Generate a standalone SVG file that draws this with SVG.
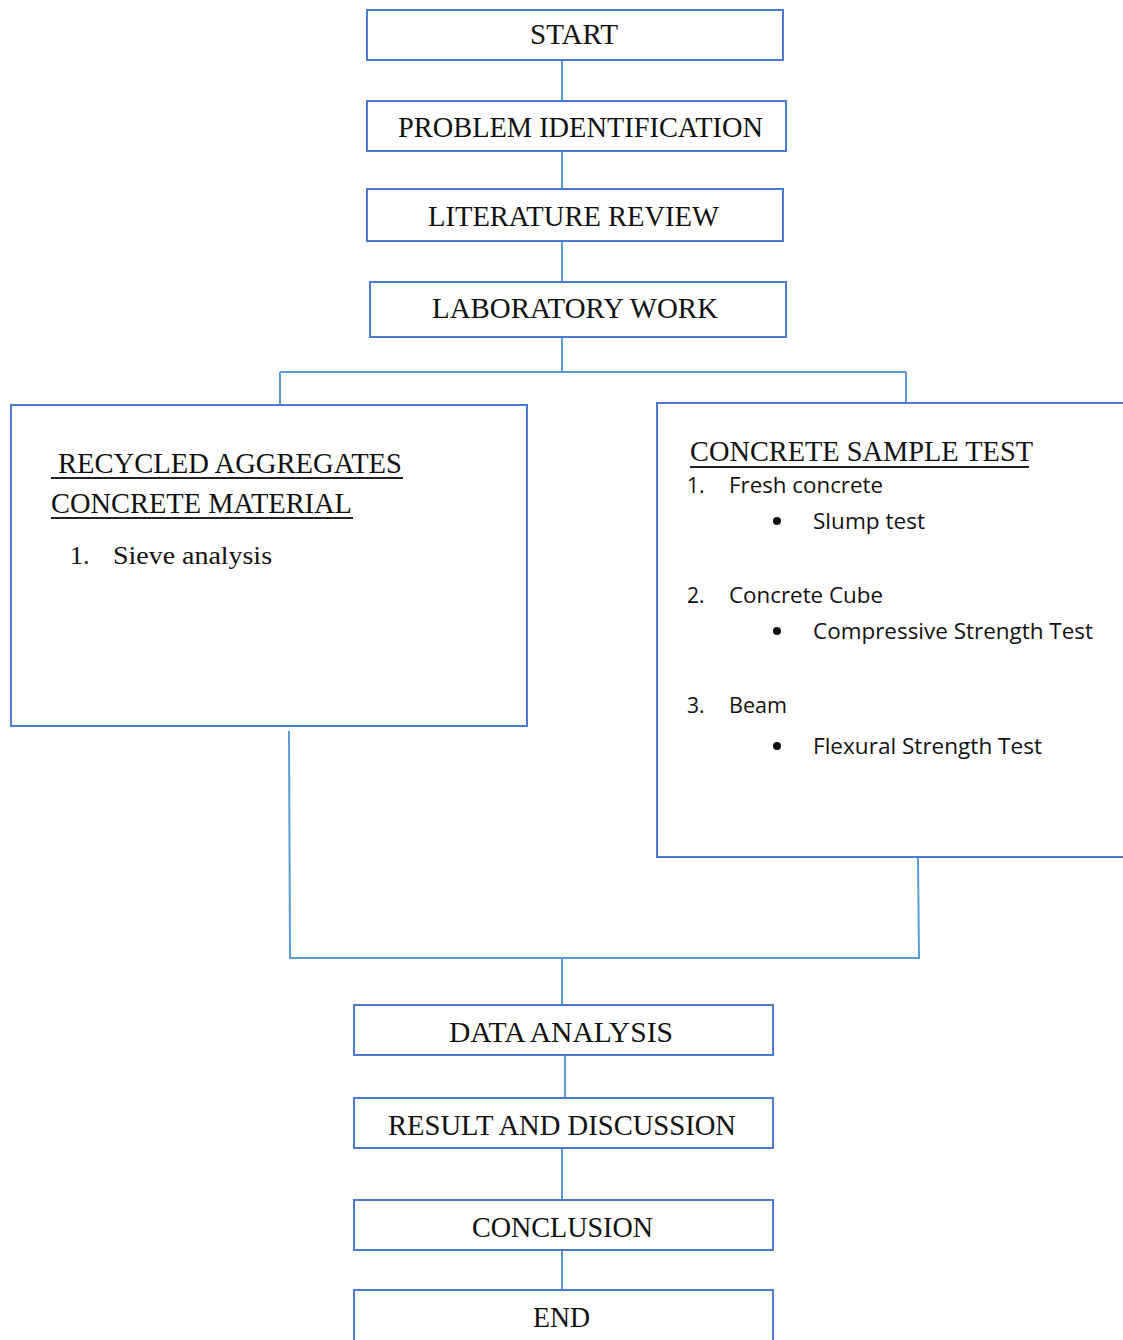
<svg xmlns="http://www.w3.org/2000/svg" width="1123" height="1340" viewBox="0 0 1123 1340">
<style>
.box{fill:#fff;stroke:#4a7bd0;stroke-width:2}
.con{fill:none;stroke:#5b9bd5;stroke-width:2}
.t{font-family:"Liberation Serif","Times New Roman",serif;font-size:30px;fill:#111}
.ts{font-family:"Liberation Serif","Times New Roman",serif;font-size:26px;fill:#111}
.s{font-family:"Open Sans","Liberation Sans",sans-serif;font-size:21px;fill:#111}
.u{stroke:#222;stroke-width:2}
</style>
<rect width="1123" height="1340" fill="#fff"/>
<g id="connectors">
<path class="con" d="M562 60V101M562 151V189M562 241V282M562 337V372M280 372H906M280 372V405M906 372V403"/>
<path class="con" d="M289 731L290 958H919L918 857M562 958V1005M565 1055V1098M562 1148V1200M562 1250V1290"/>
</g>
<g id="start"><rect class="box" x="367" y="10" width="416" height="50"/><text class="t" x="530" y="44" textLength="88" lengthAdjust="spacingAndGlyphs">START</text></g>
<g id="problem"><rect class="box" x="367" y="101" width="419" height="50"/><text class="t" x="398" y="137" textLength="365" lengthAdjust="spacingAndGlyphs">PROBLEM IDENTIFICATION</text></g>
<g id="literature"><rect class="box" x="367" y="189" width="416" height="52"/><text class="t" x="428" y="226" textLength="291" lengthAdjust="spacingAndGlyphs">LITERATURE REVIEW</text></g>
<g id="lab"><rect class="box" x="370" y="282" width="416" height="55"/><text class="t" x="432" y="318" textLength="286" lengthAdjust="spacingAndGlyphs">LABORATORY WORK</text></g>
<g id="recycled">
<rect class="box" x="11" y="405" width="516" height="321"/>
<text class="t" x="58" y="473" textLength="344" lengthAdjust="spacingAndGlyphs">RECYCLED AGGREGATES</text>
<line class="u" x1="51" y1="478" x2="403" y2="478"/>
<text class="t" x="51" y="513" textLength="301" lengthAdjust="spacingAndGlyphs">CONCRETE MATERIAL</text>
<line class="u" x1="51" y1="518" x2="353" y2="518"/>
<text class="ts" x="70" y="564">1.</text>
<text class="ts" x="113" y="564" textLength="159" lengthAdjust="spacingAndGlyphs">Sieve analysis</text>
</g>
<g id="sample">
<rect class="box" x="657" y="403" width="480" height="454"/>
<text class="t" x="690" y="461" textLength="343" lengthAdjust="spacingAndGlyphs">CONCRETE SAMPLE TEST</text>
<line class="u" x1="690" y1="467" x2="1029" y2="467"/>
<text class="s" x="687" y="493">1.</text>
<text class="s" x="729" y="493" textLength="154" lengthAdjust="spacingAndGlyphs">Fresh concrete</text>
<circle cx="777" cy="521" r="4" fill="#111"/>
<text class="s" x="813" y="529" textLength="112" lengthAdjust="spacingAndGlyphs">Slump test</text>
<text class="s" x="687" y="603">2.</text>
<text class="s" x="729" y="603" textLength="154" lengthAdjust="spacingAndGlyphs">Concrete Cube</text>
<circle cx="777" cy="631" r="4" fill="#111"/>
<text class="s" x="813" y="639" textLength="280" lengthAdjust="spacingAndGlyphs">Compressive Strength Test</text>
<text class="s" x="687" y="713">3.</text>
<text class="s" x="729" y="713" textLength="58" lengthAdjust="spacingAndGlyphs">Beam</text>
<circle cx="777" cy="746" r="4" fill="#111"/>
<text class="s" x="813" y="754" textLength="229" lengthAdjust="spacingAndGlyphs">Flexural Strength Test</text>
</g>
<g id="data"><rect class="box" x="354" y="1005" width="419" height="50"/><text class="t" x="449" y="1042" textLength="224" lengthAdjust="spacingAndGlyphs">DATA ANALYSIS</text></g>
<g id="result"><rect class="box" x="354" y="1098" width="419" height="50"/><text class="t" x="388" y="1135" textLength="348" lengthAdjust="spacingAndGlyphs">RESULT AND DISCUSSION</text></g>
<g id="conclusion"><rect class="box" x="354" y="1200" width="419" height="50"/><text class="t" x="472" y="1237" textLength="181" lengthAdjust="spacingAndGlyphs">CONCLUSION</text></g>
<g id="end"><rect class="box" x="354" y="1290" width="419" height="60"/><text class="t" x="533" y="1327" textLength="57" lengthAdjust="spacingAndGlyphs">END</text></g>
</svg>
